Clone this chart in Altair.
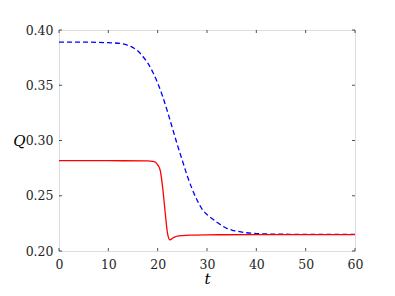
import altair as alt
import pandas as pd

# Blue dashed series
t_blue = [0, 5, 10, 12, 14, 15, 16, 17, 18, 19, 20, 21, 22, 23, 24, 25, 26, 27, 28, 29,
          30, 31, 32, 33, 34, 35, 36, 38, 40, 42, 45, 50, 55, 60]
q_blue = [0.389, 0.389, 0.3885, 0.388, 0.386, 0.384, 0.381, 0.376, 0.370, 0.362, 0.352,
          0.340, 0.326, 0.311, 0.296, 0.282, 0.268, 0.256, 0.246, 0.238, 0.233, 0.2295,
          0.226, 0.223, 0.2205, 0.219, 0.218, 0.2165, 0.2158, 0.2154, 0.2152, 0.215, 0.215, 0.215]

# Red solid series
t_red = [0, 10, 18, 19, 19.5, 20, 20.5, 21, 21.5, 22, 22.5, 23, 23.5, 24, 25, 27, 30, 40, 60]
q_red = [0.2817, 0.2817, 0.2815, 0.2812, 0.2805, 0.278, 0.2733, 0.258, 0.236, 0.216, 0.2100,
         0.2115, 0.2128, 0.2135, 0.2140, 0.2144, 0.2146, 0.2148, 0.2148]

x_ticks = [0, 10, 20, 30, 40, 50, 60]
y_ticks = [0.20, 0.25, 0.30, 0.35, 0.40]

W, H = 296, 221
FONT = "DejaVu Serif"

blue = pd.DataFrame({"t": t_blue, "Q": q_blue})
red = pd.DataFrame({"t": t_red, "Q": q_red})
xt = pd.DataFrame({"v": x_ticks})
yt = pd.DataFrame({"v": y_ticks})

xs = alt.Scale(domain=[0, 60], nice=False, zero=False)
ys = alt.Scale(domain=[0.20, 0.40], nice=False, zero=False)

xaxis = alt.Axis(values=x_ticks, ticks=False, grid=False, domain=False, labelFont=FONT,
                 labelFontSize=12.5, labelColor="#262626", labelPadding=7, labelFlush=False,
                 labelOverlap=False, title="t",
                 titleFont=FONT, titleFontStyle="italic", titleFontWeight="normal",
                 titleFontSize=15, titleColor="#000", titlePadding=1)
yaxis = alt.Axis(values=y_ticks, ticks=False, grid=False, domain=False, format=".2f",
                 labelFont=FONT, labelFontSize=12.5, labelColor="#262626", labelPadding=6,
                 labelFlush=False, labelOverlap=False,
                 title="Q", titleFont=FONT, titleFontStyle="italic", titleFontWeight="normal",
                 titleFontSize=15, titleColor="#000", titleAngle=0, titleBaseline="middle",
                 titleAlign="center", titleX=-40, titleY=110)

line_b = alt.Chart(blue).mark_line(color="#0000ff", strokeWidth=1.3, strokeDash=[5, 3],
                                   interpolate="monotone").encode(
    x=alt.X("t:Q", scale=xs, axis=xaxis),
    y=alt.Y("Q:Q", scale=ys, axis=yaxis))
line_r = alt.Chart(red).mark_line(color="#ff0000", strokeWidth=1.3,
                                  interpolate="monotone").encode(
    x=alt.X("t:Q", scale=xs), y=alt.Y("Q:Q", scale=ys))

tc = "#262626"
xb = alt.Chart(xt).mark_rule(color=tc, strokeWidth=0.8).encode(
    x=alt.X("v:Q", scale=xs), y=alt.value(H), y2=alt.value(H - 3))
xtop = alt.Chart(xt).mark_rule(color=tc, strokeWidth=0.8).encode(
    x=alt.X("v:Q", scale=xs), y=alt.value(0), y2=alt.value(3))
yl = alt.Chart(yt).mark_rule(color=tc, strokeWidth=0.8).encode(
    y=alt.Y("v:Q", scale=ys), x=alt.value(0), x2=alt.value(3))
yr = alt.Chart(yt).mark_rule(color=tc, strokeWidth=0.8).encode(
    y=alt.Y("v:Q", scale=ys), x=alt.value(W), x2=alt.value(W - 3))

chart = alt.layer(xb, xtop, yl, yr, line_b, line_r).properties(
    width=W, height=H, autosize=alt.AutoSizeParams(type="none"),
    padding={"left": 51, "top": 22, "right": 30, "bottom": 40}
).configure_view(stroke="#262626", strokeWidth=1.2).configure(background="white", font=FONT)

chart.save("out.html", embed_options={"renderer": "svg", "actions": False})
